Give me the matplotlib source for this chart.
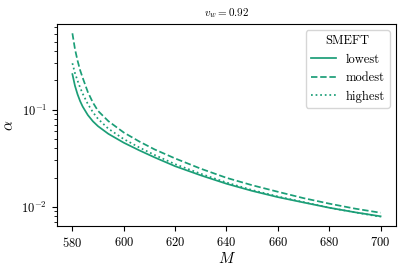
import matplotlib
matplotlib.use('Agg')
import matplotlib.pyplot as plt

plt.rcParams['font.family'] = 'serif'
plt.rcParams['font.serif'] = ['cmr10']
plt.rcParams['mathtext.fontset'] = 'cm'
plt.rcParams['axes.formatter.use_mathtext'] = True

# masses and alpha values
M = [580, 581, 582, 583, 584, 586, 588, 590, 594, 600, 606, 612, 620,
     630, 640, 650, 660, 670, 680, 690, 700]
alpha_lowest = [0.232, 0.176, 0.144, 0.1225, 0.1076, 0.0881, 0.0758, 0.0675,
                0.0564, 0.0457, 0.0382, 0.0323, 0.0262, 0.0211, 0.0173,
                0.0146, 0.0126, 0.0111, 0.0098, 0.0088, 0.0080]
alpha_modest = [0.61, 0.42, 0.32, 0.255, 0.213, 0.152, 0.118, 0.097,
                0.0762, 0.0582, 0.0471, 0.0390, 0.0315, 0.0247, 0.0199,
                0.0167, 0.0143, 0.0123, 0.0108, 0.0096, 0.0087]
alpha_highest = [0.30, 0.238, 0.199, 0.169, 0.146, 0.1145, 0.094, 0.0803,
                 0.0637, 0.0498, 0.0409, 0.0342, 0.0275, 0.0219, 0.0178,
                 0.0149, 0.0128, 0.0112, 0.0098, 0.0088, 0.0079]
labels = ['lowest', 'modest', 'highest']

col = '#1b9e77'

fig = plt.figure(figsize=(4.07, 2.71), dpi=100)
ax = fig.add_axes([0.140, 0.166, 0.833, 0.745])

ax.plot(M, alpha_lowest, color=col, ls='-', lw=1.25, label=labels[0])
ax.plot(M, alpha_modest, color=col, ls='--', lw=1.25, label=labels[1])
ax.plot(M, alpha_highest, color=col, ls=':', lw=1.25, label=labels[2])

ax.set_yscale('log')
ax.set_xticks([580, 600, 620, 640, 660, 680, 700])
ax.tick_params(labelsize=9)
ax.set_xlabel('$M$', fontsize=11, labelpad=1)
ax.set_ylabel(r'$\alpha$', fontsize=11)
ax.set_title('$v_w = 0.92$', fontsize=8)

ax.legend(title='SMEFT', fontsize=9, title_fontsize=9, loc='upper right')

fig.savefig('out.png', dpi=100)
